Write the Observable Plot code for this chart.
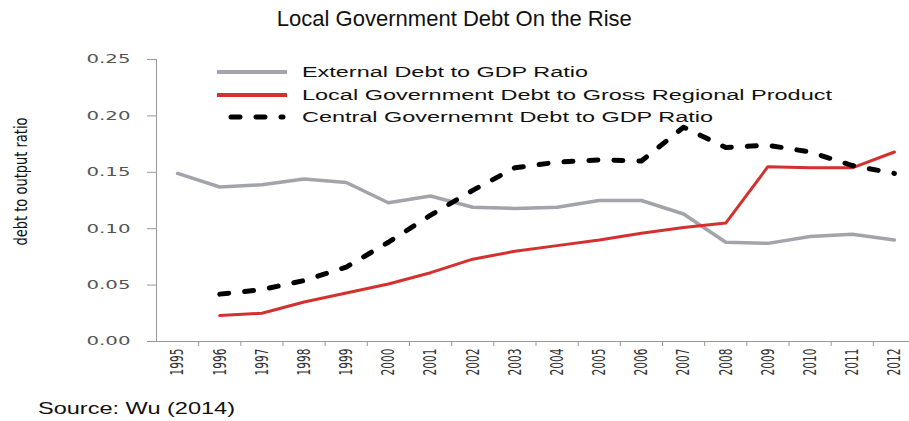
<!DOCTYPE html>
<html><head><meta charset="utf-8">
<script src="https://cdn.jsdelivr.net/npm/d3@7"></script>
<script src="https://cdn.jsdelivr.net/npm/@observablehq/plot@0.6"></script>
<style>
body{margin:0;background:#fff;}
#wrap{position:relative;width:909px;height:421px;overflow:hidden;font-family:"Liberation Sans",Arial,sans-serif;color:#111;}
#title{position:absolute;left:0;top:6px;width:909px;text-align:center;font-size:22px;white-space:nowrap;}
#title span,#caption span,.lg span.t{display:inline-block;transform-origin:0 50%;}
#chart{position:absolute;left:0;top:45px;}
#caption{position:absolute;left:38px;top:399px;font-size:17px;white-space:nowrap;}
#legend{position:absolute;left:217px;top:61px;}
.lg{display:flex;align-items:center;height:22.5px;white-space:nowrap;font-size:15.5px;}
.lg svg{width:85px;height:12px;flex:none;}
</style></head><body>
<div id="wrap">
  <div id="chart"></div>
  <div id="title"><span>Local Government Debt On the Rise</span></div>
  <div id="legend"></div>
  <div id="caption"><span>Source: Wu (2014)</span></div>
</div>
<script>
const years = [1995,1996,1997,1998,1999,2000,2001,2002,2003,2004,2005,2006,2007,2008,2009,2010,2011,2012];
const externalDebt = [0.149,0.137,0.139,0.144,0.141,0.123,0.129,0.119,0.118,0.119,0.125,0.125,0.113,0.088,0.087,0.093,0.095,0.090];
const localDebt = [null,0.023,0.025,0.035,0.043,0.051,0.061,0.073,0.080,0.085,0.090,0.096,0.101,0.105,0.155,0.154,0.154,0.168];
const centralDebt = [null,0.042,0.046,0.054,0.066,0.088,0.112,0.134,0.154,0.159,0.161,0.160,0.190,0.172,0.174,0.168,0.156,0.149];
const yTicks = [0,0.05,0.10,0.15,0.20,0.25];
const seriesNames = ["External Debt to GDP Ratio","Local Government Debt to Gross Regional Product","Central Governemnt Debt to GDP Ratio"];
const yLabel = "debt to output ratio";

const colors = {ext:"#a3a3ab", loc:"#d3302f", cen:"#000"};
const narrow = "Liberation Sans Narrow, Arial Narrow, DejaVu Sans Condensed, sans-serif";
const rows = (vals) => years.map((y,i)=>({year:y, value:vals[i]})).filter(d=>d.value!=null);
const edges = years.slice(1).map(y=>y-0.5);

const chart = Plot.plot({
  width:909, height:350,
  marginLeft:156, marginRight:-6, marginTop:14, marginBottom:54,
  style:{background:"transparent", overflow:"visible"},
  x:{type:"linear", domain:[years[0]-0.5, years[years.length-1]+0.5]},
  y:{domain:[0,0.25]},
  marks:[
    Plot.axisY({ticks:yTicks, tickFormat:d3.format(".2f"), tickSize:9, tickPadding:17, stroke:"#999", fill:"#555", fontSize:12, fontFamily:"DejaVu Sans", label:null}),
    Plot.axisX({ticks:years, tickFormat:d=>String(d), tickSize:0, tickPadding:7, tickRotate:-90, fill:"#333", fontSize:18, fontFamily:narrow, label:null}),
    Plot.axisX({ticks:edges, tickFormat:()=>"", tickSize:5, stroke:"#999", label:null}),
    Plot.ruleY([0], {stroke:"#999"}),
    Plot.ruleX([years[0]-0.5], {stroke:"#999"}),
    Plot.lineY(rows(externalDebt), {x:"year", y:"value", stroke:colors.ext, strokeWidth:3.5}),
    Plot.lineY(rows(localDebt), {x:"year", y:"value", stroke:colors.loc, strokeWidth:3}),
    Plot.lineY(rows(centralDebt), {x:"year", y:"value", stroke:colors.cen, strokeWidth:5, strokeDasharray:"9,16", strokeLinecap:"round"}),
    Plot.text([yLabel], {frameAnchor:"left", textAnchor:"middle", rotate:-90, dx:-135, dy:-19, fontSize:18, fill:"#111", fontFamily:narrow})
  ]
});
document.getElementById("chart").appendChild(chart);

// stretch texts to the widths seen in the reference
const svg = d3.select(chart);
svg.selectAll('[aria-label="y-axis tick label"] text').attr("textLength", 44).attr("lengthAdjust","spacingAndGlyphs");
svg.selectAll('[aria-label="x-axis tick label"] text').attr("textLength", 27).attr("lengthAdjust","spacingAndGlyphs");
svg.selectAll('[aria-label="text"] text').attr("textLength", 128).attr("lengthAdjust","spacingAndGlyphs");

// legend
const legend = d3.select("#legend");
const swatch = [
  {name:seriesNames[0], stroke:colors.ext, w:4, dash:null, x1:0, x2:70},
  {name:seriesNames[1], stroke:colors.loc, w:4, dash:null, x1:0, x2:70},
  {name:seriesNames[2], stroke:colors.cen, w:5, dash:"9,16", x1:14, x2:66}
];
swatch.forEach(s=>{
  const row = legend.append("div").attr("class","lg");
  const sv = row.append("svg");
  const ln = sv.append("line").attr("x1",s.x1).attr("x2",s.x2).attr("y1",6).attr("y2",6)
    .attr("stroke",s.stroke).attr("stroke-width",s.w);
  if (s.dash) ln.attr("stroke-dasharray",s.dash).attr("stroke-linecap","round");
  row.append("span").attr("class","t").text(s.name);
});
function fit(el, target){ const w = el.getBoundingClientRect().width; el.style.transform = `scaleX(${target/w})`; }
const legendWidths = [286, 530, 411];
document.querySelectorAll(".lg span.t").forEach((el,i)=>fit(el, legendWidths[i]));
const t = document.querySelector("#title span"); fit(t, 355); t.style.transformOrigin = "50% 50%";
fit(document.querySelector("#caption span"), 197);
</script>
</body></html>
